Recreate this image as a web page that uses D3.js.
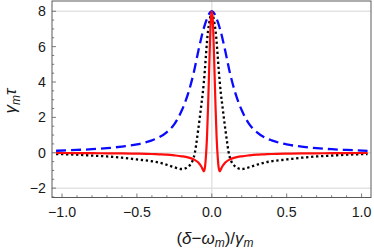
<!DOCTYPE html>
<html>
<head>
<meta charset="utf-8">
<script src="https://cdn.jsdelivr.net/npm/d3@7"></script>
<style>
  body { margin: 0; background: #fff; }
  svg { display: block; font-family: "Liberation Sans", Arial, sans-serif; }
  .tick-label { font-size: 14.2px; fill: #1a1a1a; }
  .axis-label { font-size: 17px; fill: #1a1a1a; }
</style>
</head>
<body>
<div id="wrapper"></div>
<script>
// detuning grid (delta - omega_m)/gamma_m
const xs = [-1.04, -0.9, -0.8, -0.7, -0.6, -0.5, -0.4, -0.35, -0.3, -0.25, -0.2, -0.16, -0.12, -0.09, -0.07,
  -0.06, -0.053, -0.047, -0.04, -0.032, -0.025, -0.018, -0.012, -0.006, 0,
  0.006, 0.012, 0.018, 0.025, 0.032, 0.04, 0.047, 0.053, 0.06, 0.07, 0.09, 0.12, 0.16, 0.2, 0.25,
  0.3, 0.35, 0.4, 0.5, 0.6, 0.7, 0.8, 0.9, 1.04]

// blue dashed
const blueVals = [0.11, 0.16, 0.2, 0.26, 0.35, 0.47, 0.7, 0.88, 1.17, 1.62, 2.4, 3.3, 4.55, 5.75, 6.5,
  6.85, 7.05, 7.22, 7.4, 7.58, 7.73, 7.85, 7.93, 7.98, 8.0,
  7.98, 7.93, 7.85, 7.73, 7.58, 7.4, 7.22, 7.05, 6.85, 6.5, 5.75, 4.55, 3.3, 2.4, 1.62,
  1.17, 0.88, 0.7, 0.47, 0.35, 0.26, 0.2, 0.16, 0.11]

// black dotted
const blackVals = [-0.07, -0.11, -0.16, -0.21, -0.28, -0.38, -0.48, -0.56, -0.68, -0.82, -0.92, -0.8, -0.25, 1.35, 2.7,
  3.4, 4.0, 4.6, 5.4, 6.3, 6.9, 7.3, 7.6, 7.82, 7.9,
  7.82, 7.6, 7.3, 6.9, 6.3, 5.4, 4.6, 4.0, 3.4, 2.7, 1.35, -0.25, -0.8, -0.92, -0.82,
  -0.68, -0.56, -0.48, -0.38, -0.28, -0.21, -0.16, -0.11, -0.07]

// red solid
const redVals = [-0.015, -0.02, -0.025, -0.03, -0.04, -0.05, -0.07, -0.09, -0.11, -0.15, -0.2, -0.26, -0.38, -0.55, -0.78,
  -0.95, -1.05, -0.9, -0.3, 0.9, 2.6, 4.6, 6.3, 7.6, 8.0,
  7.6, 6.3, 4.6, 2.6, 0.9, -0.3, -0.9, -1.05, -0.95, -0.78, -0.55, -0.38, -0.26, -0.2, -0.15,
  -0.11, -0.09, -0.07, -0.05, -0.04, -0.03, -0.025, -0.02, -0.015]

const xTicks = [-1.0, -0.5, 0.0, 0.5, 1.0]
const yTicks = [-2, 0, 2, 4, 6, 8]
const gridY = [-2, 0, 8]
const gridX = [0]

const width = 374
const height = 249
const plot = { left: 52, right: 371, top: 1, bottom: 197.5 }

const svg = d3.select("#wrapper").append("svg")
  .attr("width", width)
  .attr("height", height)

const x = d3.scaleLinear().domain([-1.067, 1.063]).range([plot.left, plot.right])
const y = d3.scaleLinear().domain([-2.53, 8.58]).range([plot.bottom, plot.top])

// grid lines
svg.append("g").selectAll("line").data(gridY).join("line")
  .attr("x1", plot.left).attr("x2", plot.right)
  .attr("y1", d => y(d)).attr("y2", d => y(d))
  .attr("stroke", "#e3e3e3").attr("stroke-width", 1.5)
svg.append("g").selectAll("line").data(gridX).join("line")
  .attr("x1", d => x(d)).attr("x2", d => x(d))
  .attr("y1", plot.top).attr("y2", plot.bottom)
  .attr("stroke", "#e3e3e3").attr("stroke-width", 1.5)

// curves
const line = vals => d3.line()
  .x((d, i) => x(xs[i]))
  .y(d => y(d))
  .curve(d3.curveMonotoneX)(vals)

svg.append("clipPath").attr("id", "clip").append("rect")
  .attr("x", plot.left).attr("y", plot.top)
  .attr("width", plot.right - plot.left).attr("height", plot.bottom - plot.top)

const curves = svg.append("g").attr("clip-path", "url(#clip)")
curves.append("path").attr("d", line(blueVals))
  .attr("fill", "none").attr("stroke", "#0a0aff").attr("stroke-width", 2.3)
  .attr("stroke-dasharray", "10,5")
curves.append("path").attr("d", line(blackVals))
  .attr("fill", "none").attr("stroke", "#000").attr("stroke-width", 2.3)
  .attr("stroke-dasharray", "2.3,2.7")
curves.append("path").attr("d", line(redVals))
  .attr("fill", "none").attr("stroke", "#ff0d0d").attr("stroke-width", 2.2)

// frame
svg.append("rect")
  .attr("x", plot.left).attr("y", plot.top)
  .attr("width", plot.right - plot.left).attr("height", plot.bottom - plot.top)
  .attr("fill", "none").attr("stroke", "#5a5a5a").attr("stroke-width", 1)

// ticks (inward)
const xMinor = d3.range(-10, 11).map(d => d / 10).filter(d => !xTicks.includes(d))
const yMinor = d3.range(-5, 17).map(d => d / 2).filter(d => !yTicks.includes(d) && y(d) > plot.top)
const tickG = svg.append("g").attr("stroke", "#5a5a5a").attr("stroke-width", 0.8)
tickG.selectAll(".xt").data(xTicks).join("line")
  .attr("x1", d => x(d)).attr("x2", d => x(d))
  .attr("y1", plot.bottom).attr("y2", plot.bottom - 4)
tickG.selectAll(".xm").data(xMinor).join("line")
  .attr("x1", d => x(d)).attr("x2", d => x(d))
  .attr("y1", plot.bottom).attr("y2", plot.bottom - 2.2)
tickG.selectAll(".yt").data(yTicks).join("line")
  .attr("x1", plot.left).attr("x2", plot.left + 4)
  .attr("y1", d => y(d)).attr("y2", d => y(d))
tickG.selectAll(".ym").data(yMinor).join("line")
  .attr("x1", plot.left).attr("x2", plot.left + 2.2)
  .attr("y1", d => y(d)).attr("y2", d => y(d))

// tick labels
const fmtX = d3.format(".1f")
svg.append("g").selectAll("text").data(xTicks).join("text")
  .attr("class", "tick-label")
  .attr("x", d => x(d)).attr("y", 216.5)
  .attr("text-anchor", "middle")
  .text(d => fmtX(d))
svg.append("g").selectAll("text").data(yTicks).join("text")
  .attr("class", "tick-label")
  .attr("x", 46).attr("y", d => y(d) + 5)
  .attr("text-anchor", "end")
  .text(d => d3.format("d")(d))

// axis labels
const xl = svg.append("text").attr("class", "axis-label")
  .attr("x", 215).attr("y", 243.5).attr("text-anchor", "middle")
xl.append("tspan").text("(")
xl.append("tspan").attr("font-style", "italic").text("δ")
xl.append("tspan").text("\u2212")
xl.append("tspan").attr("font-style", "italic").text("ω")
xl.append("tspan").attr("font-style", "italic").attr("font-size", "12px").attr("dy", 3.5).text("m")
xl.append("tspan").attr("dy", -3.5).text(")/")
xl.append("tspan").attr("font-style", "italic").text("γ")
xl.append("tspan").attr("font-style", "italic").attr("font-size", "12px").attr("dy", 3.5).text("m")

const yl = svg.append("text").attr("class", "axis-label")
  .attr("transform", "translate(16,101) rotate(-90)")
  .attr("text-anchor", "middle")
yl.append("tspan").attr("font-style", "italic").text("γ")
yl.append("tspan").attr("font-style", "italic").attr("font-size", "12px").attr("dy", 3.5).text("m")
yl.append("tspan").attr("font-style", "italic").attr("dy", -3.5).text("τ")
</script>
</body>
</html>
